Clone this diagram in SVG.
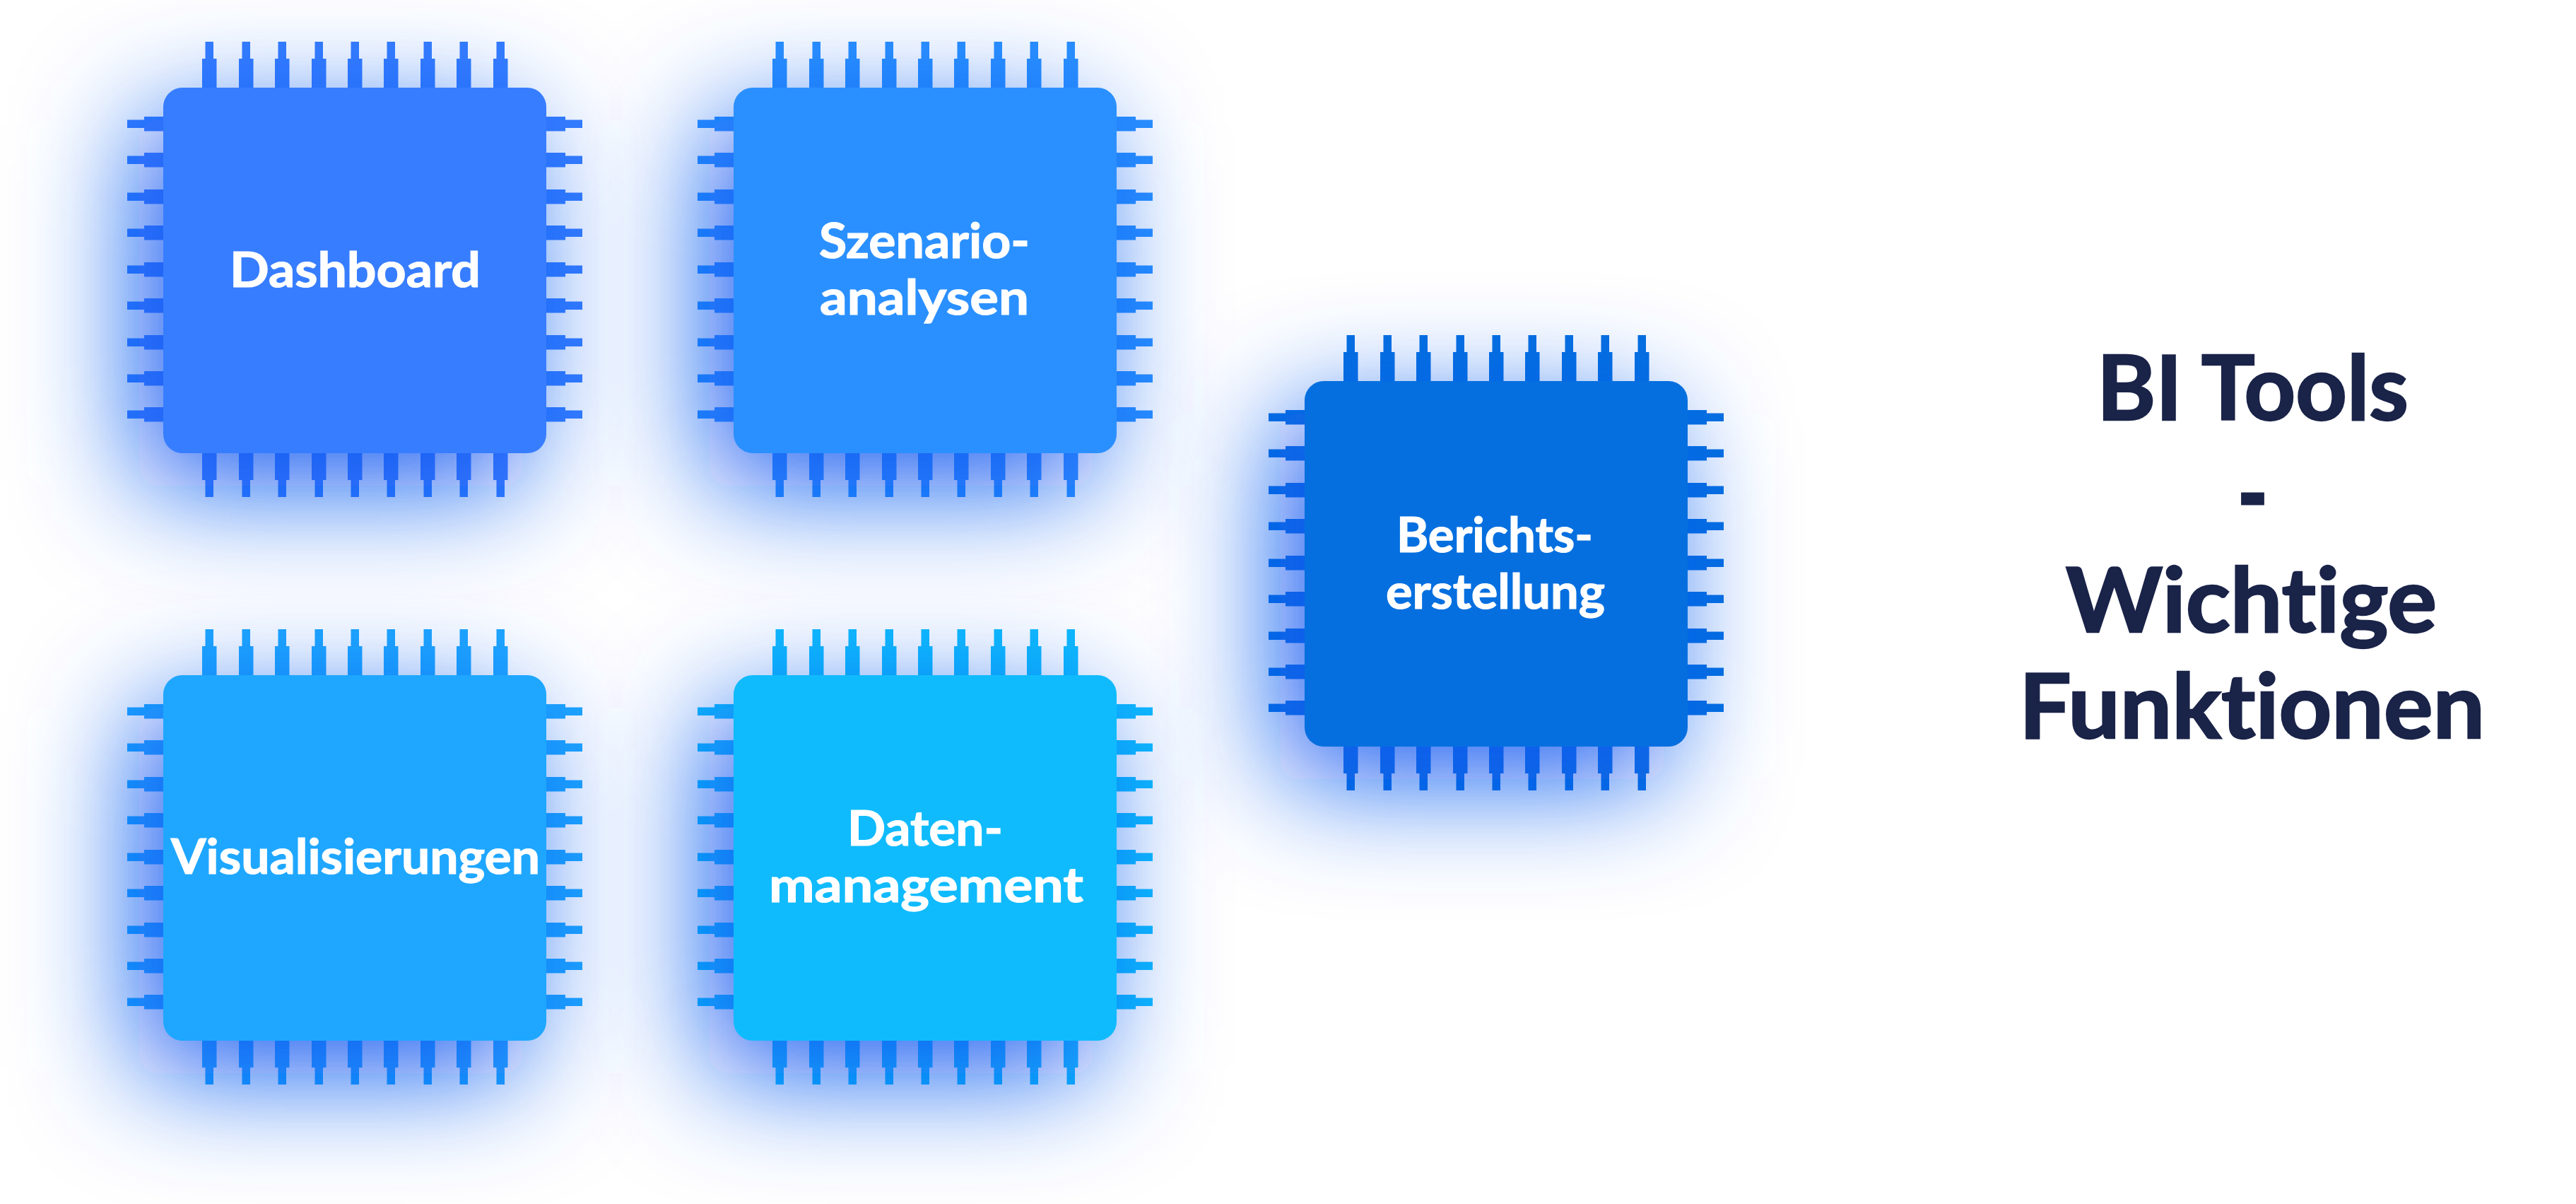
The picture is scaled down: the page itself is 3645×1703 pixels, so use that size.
<svg xmlns="http://www.w3.org/2000/svg" width="3645" height="1703" viewBox="0 0 3645 1703">
<style>
.lbl{font-family:"Lato","Liberation Sans",sans-serif;font-weight:700;font-size:68px;fill:#fff;stroke:#fff;stroke-width:1.2;font-variant-ligatures:none}
.ttl{font-family:"Lato","Liberation Sans",sans-serif;font-weight:700;font-size:126px;fill:#1a2348;stroke:#1a2348;stroke-width:2.5;font-variant-ligatures:none}
.dash{stroke-width:5}
.sh{fill:#1257f0;fill-opacity:.96;filter:url(#glow)}
</style>
<defs>
<filter id="glow" x="-70%" y="-70%" width="240%" height="240%"><feGaussianBlur stdDeviation="84"/></filter>
<path id="pt" d="M0 0V-41H4.5V-65H16V-41H20.5V0Z"/>
<path id="pb" d="M0 517V555H4.5V579H16V555H20.5V517Z"/>
<path id="pl" d="M0 0H-27V4.5H-51V16H-27V20.5H0Z"/>
<path id="pr" d="M542 0H569V4.5H593V16H569V20.5H542Z"/>
<g id="pins">
<use href="#pt" x="55"/><use href="#pt" x="107"/><use href="#pt" x="158"/><use href="#pt" x="210"/><use href="#pt" x="261"/><use href="#pt" x="312"/><use href="#pt" x="364"/><use href="#pt" x="415"/><use href="#pt" x="467"/>
<use href="#pb" x="55"/><use href="#pb" x="107"/><use href="#pb" x="158"/><use href="#pb" x="210"/><use href="#pb" x="261"/><use href="#pb" x="312"/><use href="#pb" x="364"/><use href="#pb" x="415"/><use href="#pb" x="467"/>
<use href="#pl" y="41"/><use href="#pl" y="92"/><use href="#pl" y="144"/><use href="#pl" y="195"/><use href="#pl" y="247"/><use href="#pl" y="298"/><use href="#pl" y="350"/><use href="#pl" y="401"/><use href="#pl" y="452"/>
<use href="#pr" y="41"/><use href="#pr" y="92"/><use href="#pr" y="144"/><use href="#pr" y="195"/><use href="#pr" y="247"/><use href="#pr" y="298"/><use href="#pr" y="350"/><use href="#pr" y="401"/><use href="#pr" y="452"/>
</g>
<rect id="body" width="542" height="517" rx="27"/>
<rect id="shadow" x="-34" y="46" width="542" height="517" rx="27"/>
</defs>
<rect width="3645" height="1703" fill="#fff"/>
<g id="chip-dashboard" transform="translate(231 124)">
<use href="#pins" fill="#377dff"/><use href="#shadow" class="sh"/><use href="#body" fill="#377dff"/>
<text class="lbl" x="94" y="282" textLength="355" lengthAdjust="spacingAndGlyphs">Dashboard</text>
</g>
<g id="chip-szenarioanalysen" transform="translate(1038 124)">
<use href="#pins" fill="#2b90ff"/><use href="#shadow" class="sh"/><use href="#body" fill="#2b90ff"/>
<text class="lbl" x="121" y="241" textLength="298" lengthAdjust="spacingAndGlyphs">Szenario-</text>
<text class="lbl" x="122" y="321" textLength="296" lengthAdjust="spacingAndGlyphs">analysen</text>
</g>
<g id="chip-berichtserstellung" transform="translate(1846 539)">
<use href="#pins" fill="#056fdf"/><use href="#shadow" class="sh"/><use href="#body" fill="#056fdf"/>
<text class="lbl" x="130" y="242" textLength="278" lengthAdjust="spacingAndGlyphs">Berichts-</text>
<text class="lbl" x="115" y="322" textLength="310" lengthAdjust="spacingAndGlyphs">erstellung</text>
</g>
<g id="chip-visualisierungen" transform="translate(231 955)">
<use href="#pins" fill="#1fa7ff"/><use href="#shadow" class="sh"/><use href="#body" fill="#1fa7ff"/>
<text class="lbl" x="11" y="281" textLength="522" lengthAdjust="spacingAndGlyphs">Visualisierungen</text>
</g>
<g id="chip-datenmanagement" transform="translate(1038 955)">
<use href="#pins" fill="#10bbfd"/><use href="#shadow" class="sh"/><use href="#body" fill="#10bbfd"/>
<text class="lbl" x="161" y="241" textLength="220" lengthAdjust="spacingAndGlyphs">Daten-</text>
<text class="lbl" x="50" y="321" textLength="445" lengthAdjust="spacingAndGlyphs">management</text>
</g>
<g id="title">
<text class="ttl" x="2967" y="594" textLength="441" lengthAdjust="spacingAndGlyphs">BI Tools</text>
<text class="ttl dash" x="3167" y="744" textLength="41" lengthAdjust="spacingAndGlyphs">-</text>
<text class="ttl" x="2923" y="894" textLength="525" lengthAdjust="spacingAndGlyphs">Wichtige</text>
<text class="ttl" x="2857" y="1044" textLength="659" lengthAdjust="spacingAndGlyphs">Funktionen</text>
</g>
</svg>
